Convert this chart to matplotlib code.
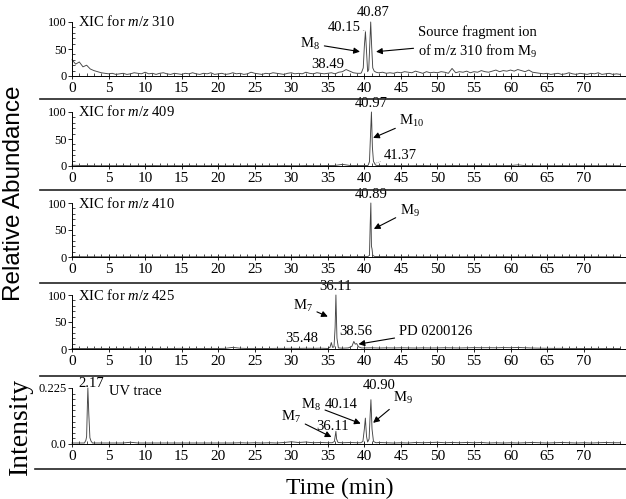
import numpy as np
import matplotlib.pyplot as plt
from matplotlib.lines import Line2D

plt.rcParams['font.family'] = 'Liberation Serif'
plt.rcParams['mathtext.fontset'] = 'custom'
plt.rcParams['mathtext.rm'] = 'Liberation Serif'
plt.rcParams['mathtext.it'] = 'Liberation Serif:italic'

# ---- data ----
# panel 1 : XIC m/z 310, baseline every 0.5 min from 0 to 75
p1_base = [30, 22, 26, 17, 20, 13, 10, 8, 6, 5,
           4, 5, 3, 4, 5, 3, 4, 6, 5, 4,
           7, 4, 5, 3, 5, 6, 4, 3, 5, 4,
           3, 5, 4, 6, 4, 3, 5, 4, 6, 3,
           4, 5, 3, 4, 6, 4, 5, 3, 4, 7,
           5, 4, 3, 5, 4, 6, 5, 4, 3, 5,
           6, 4, 5, 4, 7, 5, 4, 6, 5, 4,
           5, 6, 4, 7, 8, 12, 9, 6, 5, 5,
           5, 5, 6, 5, 6, 7, 5, 6, 5, 7,
           6, 8, 7, 6, 9, 7, 5, 8, 6, 7,
           6, 8, 7, 5, 14, 6, 8, 7, 9, 6,
           8, 7, 10, 8, 7, 9, 11, 8, 10, 9,
           11, 9, 12, 10, 8, 11, 7, 6, 5, 4,
           5, 3, 4, 5, 3, 4, 6, 4, 3, 5,
           4, 3, 5, 4, 6, 3, 4, 5, 3, 4, 3]
p1_peak_t = [[39.6, 39.85, 40.0, 40.15, 40.3, 40.45, 40.6, 40.75, 40.87, 41.0, 41.15, 41.35, 41.6, 41.9]]
p1_peak_v = [[6, 15, 55, 82, 45, 8, 12, 60, 100, 55, 15, 9, 7, 6]]

# panels 2-5 : baseline every 1 min from 0 to 75
p2_base = [1.5, 1, 0.8, 0.6, 0.5, 0.6, 0.5, 0.7, 0.5, 0.6,
           0.5, 0.7, 0.6, 0.5, 0.6, 0.5, 0.8, 0.6, 0.5, 0.6,
           0.7, 0.5, 0.6, 0.5, 0.7, 0.6, 0.5, 0.6, 0.5, 0.7,
           0.6, 0.5, 0.8, 0.6, 0.7, 0.9, 1.0, 3.0, 1.0, 0.8,
           0.9, 0.8, 1.0, 0.8, 0.7, 0.8, 0.6, 0.7, 0.8, 0.6,
           0.7, 0.6, 0.8, 0.7, 0.6, 0.7, 0.8, 0.6, 0.7, 0.6,
           0.8, 2.0, 0.7, 0.6, 0.5, 0.6, 0.5, 0.7, 0.5, 0.6,
           0.5, 0.6, 0.5, 0.6, 0.5, 0.6]
p2_peak_t = [[40.5, 40.7, 40.85, 40.97, 41.1, 41.25, 41.37, 41.5, 41.7]]
p2_peak_v = [[1, 8, 60, 100, 35, 8, 6, 2, 1]]

p3_base = [0.8, 0.6, 0.5, 0.5, 0.4, 0.5, 0.4, 0.5, 0.6, 0.4,
           0.5, 0.4, 0.5, 0.4, 0.6, 0.5, 0.4, 0.5, 0.4, 0.5,
           0.6, 0.4, 0.5, 0.4, 0.5, 0.4, 0.6, 0.5, 0.4, 0.5,
           0.4, 0.5, 0.6, 0.5, 0.6, 0.7, 0.6, 0.8, 0.7, 0.8,
           0.9, 1.0, 0.9, 0.8, 0.7, 0.6, 0.7, 0.6, 0.5, 0.6,
           0.5, 0.6, 0.5, 0.4, 0.5, 0.6, 0.5, 0.4, 0.5, 0.6,
           0.5, 0.4, 0.5, 0.6, 0.5, 0.4, 0.5, 0.4, 0.5, 0.4,
           0.5, 0.4, 0.5, 0.4, 0.5, 0.4]
p3_peak_t = [[40.5, 40.7, 40.8, 40.89, 40.97, 41.05, 41.15, 41.4]]
p3_peak_v = [[1, 3, 60, 100, 20, 15, 3, 1]]

p4_base = [1.0, 0.8, 1.0, 0.9, 1.1, 0.8, 1.0, 0.9, 1.2, 0.9,
           1.0, 0.8, 1.1, 0.9, 1.0, 1.2, 0.9, 1.0, 0.8, 1.1,
           1.0, 1.2, 3.0, 1.4, 1.0, 1.1, 0.9, 1.0, 1.2, 1.1,
           1.3, 1.1, 1.4, 1.2, 1.5, 1.3, 1.2, 1.4, 1.6, 1.8,
           2.0, 2.2, 1.8, 2.1, 1.9, 2.2, 2.0, 1.8, 2.1, 1.9,
           2.0, 2.3, 2.1, 1.9, 2.2, 2.5, 2.3, 2.4, 2.2, 2.6,
           2.4, 2.8, 2.3, 1.8, 1.5, 1.3, 1.1, 1.2, 1.0, 1.1,
           0.9, 1.0, 1.1, 0.9, 1.0, 0.9]
p4_peak_t = [[35.0, 35.3, 35.48, 35.65, 35.85, 36.0, 36.11, 36.25, 36.45, 37.0,
              37.8, 38.3, 38.56, 38.75, 38.95, 39.2, 39.6]]
p4_peak_v = [[1, 3, 12, 3, 4, 40, 100, 20, 2, 1.5, 2, 5, 14, 9, 10, 4, 2]]

uv_base = [0.004, 0.004, 0.004, 0.004, 0.004, 0.004, 0.004, 0.004, 0.007, 0.004,
           0.004, 0.004, 0.004, 0.004, 0.004, 0.004, 0.004, 0.004, 0.004, 0.004,
           0.004, 0.004, 0.004, 0.005, 0.004, 0.005, 0.004, 0.005, 0.004, 0.006,
           0.009, 0.006, 0.008, 0.005, 0.006, 0.005, 0.006, 0.005, 0.006, 0.005,
           0.006, 0.005, 0.006, 0.005, 0.004, 0.005, 0.004, 0.006, 0.005, 0.006,
           0.007, 0.005, 0.006, 0.005, 0.006, 0.005, 0.006, 0.004, 0.005, 0.004,
           0.005, 0.004, 0.005, 0.006, 0.005, 0.004, 0.005, 0.006, 0.005, 0.004,
           0.005, 0.004, 0.005, 0.006, 0.005, 0.005]
uv_peak_t = [[1.7, 1.9, 2.0, 2.1, 2.17, 2.3, 2.45, 2.6, 2.8],
             [35.6, 35.9, 36.0, 36.11, 36.2, 36.4],
             [39.5, 39.8, 40.0, 40.14, 40.3, 40.45, 40.65, 40.8, 40.9, 41.05, 41.25, 41.6]]
uv_peak_v = [[0.004, 0.015, 0.03, 0.15, 0.225, 0.12, 0.025, 0.012, 0.004],
             [0.005, 0.01, 0.03, 0.051, 0.02, 0.006],
             [0.005, 0.01, 0.06, 0.104, 0.03, 0.008, 0.02, 0.12, 0.178, 0.06, 0.01, 0.005]]

x_ticks = list(range(0, 75, 5))


def make_trace(base_t, base_v, seg_t, seg_v):
    base_t = np.asarray(base_t, float)
    base_v = np.asarray(base_v, float)
    keep = np.ones(len(base_t), bool)
    for st in seg_t:
        keep &= (base_t < st[0]) | (base_t > st[-1])
    t = np.concatenate([base_t[keep]] + [np.asarray(s, float) for s in seg_t])
    v = np.concatenate([base_v[keep]] + [np.asarray(s, float) for s in seg_v])
    order = np.argsort(t)
    return t[order], v[order]


W, H = 626, 499
fig = plt.figure(figsize=(W / 100, H / 100), dpi=100)

x0_px = 72
xmax = 75.8


def panel(zero_px, full_px, full_val, ymax):
    # zero_px: pixel row of value 0, full_px: pixel row of full_val
    scale = (zero_px - full_px) / full_val
    h = ymax * scale
    ax = fig.add_axes([x0_px / W, 1 - zero_px / H, (W - x0_px) / W, h / H])
    ax.set_xlim(0, xmax)
    ax.set_ylim(0, ymax)
    ax.patch.set_alpha(0)
    for s in ['top', 'right']:
        ax.spines[s].set_visible(False)
    ax.spines['left'].set_bounds(0, full_val)
    ax.spines['left'].set_linewidth(0.7)
    ax.spines['bottom'].set_linewidth(0.7)
    ax.set_xticks(x_ticks)
    ax.set_xticks(np.arange(0, 76, 1), minor=True)
    ax.tick_params(axis='x', which='major', direction='inout', length=5, width=0.6,
                   labelsize=11, pad=2)
    ax.tick_params(axis='x', which='minor', direction='in', length=2.5, width=0.5)
    ax.tick_params(axis='y', which='major', direction='out', length=3, width=0.6,
                   labelsize=9, pad=1)
    ax.tick_params(axis='y', which='minor', direction='in', length=2, width=0.5)
    return ax


def sep(y_px, x_start=40):
    fig.add_artist(Line2D([x_start / W, 1], [1 - y_px / H, 1 - y_px / H],
                          color='#222222', lw=1.2))


arrow = dict(arrowstyle='-|>', color='k', lw=0.8, shrinkA=1, shrinkB=0, mutation_scale=9)
lead = dict(arrowstyle='-', color='#999999', lw=0.5, ls=':', shrinkA=0, shrinkB=0)
line_kw = dict(color='#444444', lw=0.65, clip_on=False)
fs = 10.5

# ---- panel 1 ----
ax1 = panel(76, 22, 100, 130)
t, v = make_trace(np.arange(0, 75.01, 0.5), p1_base, p1_peak_t, p1_peak_v)
ax1.plot(t, v, **line_kw)
ax1.set_yticks([0, 50, 100])
ax1.set_yticks(np.arange(0, 101, 10), minor=True)
ax1.text(0.8, 100, 'XIC for $\\it{m/z}$ 310', fontsize=fs, va='center')
ax1.annotate('M$_8$', xy=(39.4, 45), xytext=(32.6, 60), fontsize=fs, ha='center',
             va='center', arrowprops=arrow)
ax1.annotate('40.15', xy=(40.1, 84), xytext=(37.2, 90), fontsize=fs, ha='center',
             va='center', arrowprops=lead)
ax1.text(41.2, 118, '40.87', fontsize=fs, ha='center', va='center')
ax1.text(35.0, 22, '38.49', fontsize=fs, ha='center', va='center')
ax1.annotate('Source fragment ion\nof m/z 310 from M$_9$', xy=(41.6, 45),
             xytext=(47.3, 62), fontsize=fs, ha='left', va='center',
             linespacing=1.3, arrowprops=arrow)
sep(99)

# ---- panel 2 ----
ax2 = panel(166, 112, 100, 130)
t, v = make_trace(np.arange(0, 76), p2_base, p2_peak_t, p2_peak_v)
ax2.plot(t, v, **line_kw)
ax2.set_yticks([0, 50, 100])
ax2.set_yticks(np.arange(0, 101, 10), minor=True)
ax2.text(0.8, 100, 'XIC for $\\it{m/z}$ 409', fontsize=fs, va='center')
ax2.text(41.0, 116, '40.97', fontsize=fs, ha='center', va='center')
ax2.annotate('M$_{10}$', xy=(41.2, 52), xytext=(46.5, 83), fontsize=fs, ha='center',
             va='center', arrowprops=arrow)
ax2.annotate('41.37', xy=(41.5, 5), xytext=(42.6, 20), fontsize=fs, ha='left',
             va='center', arrowprops=lead)
sep(190)

# ---- panel 3 ----
ax3 = panel(257, 203, 100, 130)
t, v = make_trace(np.arange(0, 76), p3_base, p3_peak_t, p3_peak_v)
ax3.plot(t, v, **line_kw)
ax3.set_yticks([0, 50, 100])
ax3.set_yticks(np.arange(0, 101, 10), minor=True)
ax3.text(0.8, 100, 'XIC for $\\it{m/z}$ 410', fontsize=fs, va='center')
ax3.text(40.9, 116, '40.89', fontsize=fs, ha='center', va='center')
ax3.annotate('M$_9$', xy=(41.3, 52), xytext=(46.2, 86), fontsize=fs, ha='center',
             va='center', arrowprops=arrow)
sep(283)

# ---- panel 4 ----
ax4 = panel(349, 295, 100, 130)
t, v = make_trace(np.arange(0, 76), p4_base, p4_peak_t, p4_peak_v)
ax4.plot(t, v, **line_kw)
ax4.set_yticks([0, 50, 100])
ax4.set_yticks(np.arange(0, 101, 10), minor=True)
ax4.text(0.8, 100, 'XIC for $\\it{m/z}$ 425', fontsize=fs, va='center')
ax4.text(36.1, 115, '36.11', fontsize=fs, ha='center', va='center')
ax4.annotate('M$_7$', xy=(35.0, 60), xytext=(31.6, 80), fontsize=fs, ha='center',
             va='center', arrowprops=arrow)
ax4.text(31.4, 19, '35.48', fontsize=fs, ha='center', va='center')
ax4.text(38.8, 33, '38.56', fontsize=fs, ha='center', va='center')
ax4.annotate('PD 0200126', xy=(39.2, 9), xytext=(44.7, 33), fontsize=fs, ha='left',
             va='center', arrowprops=arrow)
sep(376)

# ---- panel 5 : UV ----
ax5 = panel(444, 388, 0.225, 0.262)
t, v = make_trace(np.arange(0, 76), uv_base, uv_peak_t, uv_peak_v)
ax5.plot(t, v, **line_kw)
ax5.set_yticks([0, 0.225])
ax5.set_yticklabels(['0.0', '0.225'])
ax5.set_yticks(np.arange(0, 0.226, 0.0225), minor=True)
ax5.text(2.6, 0.242, '2.17', fontsize=fs, ha='center', va='center')
ax5.text(5.1, 0.212, 'UV trace', fontsize=fs, ha='left', va='center')
ax5.annotate('M$_7$', xy=(35.5, 0.028), xytext=(30.0, 0.108), fontsize=fs,
             ha='center', va='center', arrowprops=arrow)
ax5.text(35.6, 0.072, '36.11', fontsize=fs, ha='center', va='center')
ax5.annotate('M$_8$', xy=(39.5, 0.082), xytext=(32.7, 0.158), fontsize=fs,
             ha='center', va='center', arrowprops=arrow)
ax5.text(36.8, 0.16, '40.14', fontsize=fs, ha='center', va='center')
ax5.text(42.0, 0.236, '40.90', fontsize=fs, ha='center', va='center')
ax5.annotate('M$_9$', xy=(41.2, 0.085), xytext=(45.3, 0.185), fontsize=fs,
             ha='center', va='center', arrowprops=arrow)
sep(469, 35)

# ---- shared labels ----
fig.text(0.022, 1 - 193 / H, 'Relative Abundance', rotation=90, ha='center',
         va='center', fontsize=17.5, family='Liberation Sans')
fig.text(0.032, 1 - 426 / H, 'Intensity', rotation=90, ha='center', va='center',
         fontsize=20)
fig.text(0.543, 1 - 488 / H, 'Time (min)', ha='center', va='center', fontsize=17)

fig.savefig('out.png', dpi=100)
